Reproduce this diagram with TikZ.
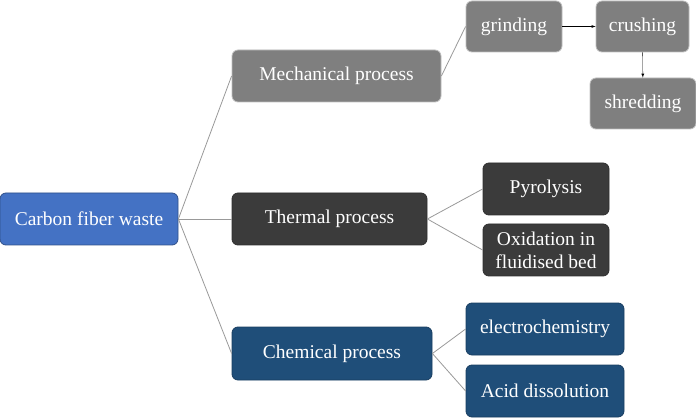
\documentclass[tikz,border=0pt]{standalone}
\usepackage{fontspec}
\setmainfont{Liberation Serif}
\usepackage{tikz}

\definecolor{wasteblue}{HTML}{4472C4}
\definecolor{mechgray}{HTML}{7F7F7F}
\definecolor{thermdark}{HTML}{3B3B3B}
\definecolor{chemblue}{HTML}{1F4E79}

\tikzset{
  box/.style={rounded corners=6pt, text=white, align=center, inner sep=2pt,
    font=\fontsize{19.5}{23}\selectfont, line width=0.8pt},
  link/.style={draw=gray!80, line width=0.8pt},
}

\begin{document}
\begin{tikzpicture}[x=1pt,y=1pt]
        \useasboundingbox (0,0) rectangle (696,418);
        \node [box, fill=wasteblue, draw=wasteblue!70!black, minimum width=178pt, minimum height=52pt] (cfw) at (89,199) {Carbon fiber waste};
        \node [box, fill=mechgray, draw=gray!50, minimum width=209pt, minimum height=52pt] (mech) at (336.5,342) {Mechanical process};
        \node [box, fill=thermdark, draw=thermdark!80!black, minimum width=195pt, minimum height=52pt] (therm) at (329.5,199) {Thermal process};
        \node [box, fill=chemblue, draw=chemblue!80!black, minimum width=200pt, minimum height=53pt] (chem) at (332,64.5) {Chemical process};

        \node [box, fill=mechgray, draw=gray!50, minimum width=96pt, minimum height=51pt] (grind) at (514,391.5) {grinding};
        \node [box, fill=mechgray, draw=gray!50, minimum width=93pt, minimum height=51pt] (crush) at (642.5,391.5) {crushing};
        \node [box, fill=mechgray, draw=gray!50, minimum width=106pt, minimum height=51pt] (shred) at (643,314.5) {shredding};

        \node [box, fill=thermdark, draw=thermdark!80!black, minimum width=126pt, minimum height=52pt] (pyro) at (546,229) {Pyrolysis};
        \node [box, fill=thermdark, draw=thermdark!80!black, minimum width=126pt, minimum height=52pt] (oxid) at (546,168) {Oxidation in\\fluidised bed};

        \node [box, fill=chemblue, draw=chemblue!80!black, minimum width=158pt, minimum height=52pt] (elec) at (545,89) {electrochemistry};
        \node [box, fill=chemblue, draw=chemblue!80!black, minimum width=158pt, minimum height=52pt] (acid) at (545,27) {Acid dissolution};

        \draw [link] (cfw.east) -- (mech.west);
        \draw [link] (cfw.east) -- (therm.west);
        \draw [link] (cfw.east) -- (chem.west);
        \draw [link] (mech.east) -- (grind.west);
        \draw [link] (therm.east) -- (pyro.west);
        \draw [link] (therm.east) -- (oxid.west);
        \draw [link] (chem.east) -- (elec.west);
        \draw [link] (chem.east) -- (acid.west);

        \draw [-latex] (grind) -- (crush);
        \draw [-latex] (crush) -- (shred);
      \end{tikzpicture}
\end{document}
